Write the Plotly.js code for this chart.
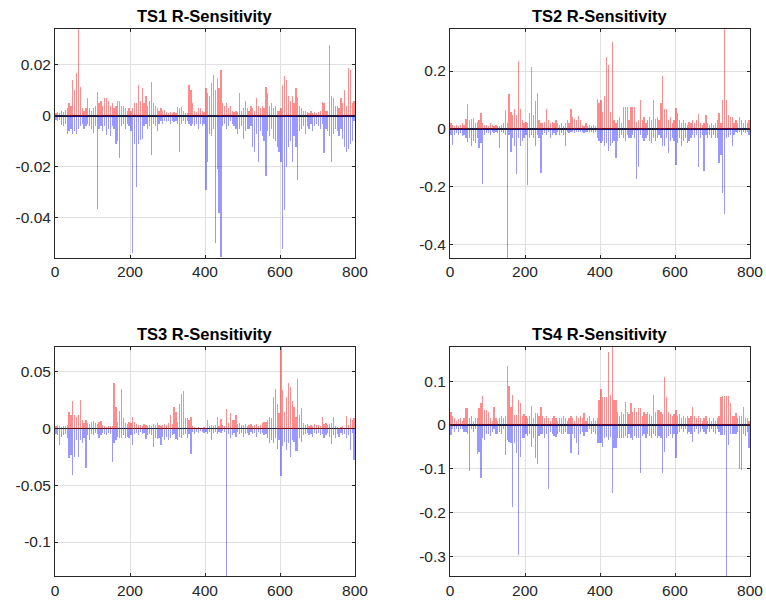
<!DOCTYPE html>
<html>
<head>
<meta charset="utf-8">
<script src="https://cdn.plot.ly/plotly-3.0.1.min.js"></script>
<style>html,body{margin:0;padding:0;background:#fff;}#chart{width:766px;height:609px;}</style>
</head>
<body>
<div id="chart"></div>
<script>
// Sample index: one value per 5-sample bin, bins start at 0,5,...,795 (160 bins)
const BIN = 5;
const NBINS = 160;

// Panel titles
const TITLES = ["TS1 R-Sensitivity", "TS2 R-Sensitivity", "TS3 R-Sensitivity", "TS4 R-Sensitivity"];

// Units the arrays are written in
const TS1_UNIT = 0.001, TS2_UNIT = 0.01, TS3_UNIT = 0.001, TS4_UNIT = 0.01;

// TS1 (values in 0.001)
const TS1_POS = [
 1,1.5,1,2,1.5,2.5,3,5,4,14,
 10,17,36,11.5,3,2,3,7,3,2,
 3,4,9.5,5,6,4,7,7,6,4,
 5,3,4,6,6,4,4,3,2,3,
 2,3,5,5,12,6,11,5,8,4,
 6,13.5,5,4,3,2,3,2,2.5,1.5,
 1,1.5,1,1.5,1,3.5,3,3.5,2,1,
 1,12,10,5,2,1.5,3,3,2,1.5,
 11,9,8,13,16,10,15,11,18,5,
 4,5,3,4,2,1.5,2,1.5,9,2,
 3,6,3,2,4,3,2,7,4,3,
 4,3,11.5,9,4,5,3,4,2,2,
 3,12,15.5,14,8,6,8,5,11,7.5,
 4,3,2,2,1.5,1,2,1,1.5,1,
 1.5,2,5.5,5,2,2,28,8,7,4,
 4,3,7,5,10,4,18.7,18,5,6];
const TS1_NEG = [
 -1.5,-2,-1.5,-3.5,-4,-3,-7,-6,-5,-7,
 -6,-7,-5,-4,-3,-5,-4,-3,-4,-5,
 -6.5,-4,-36.5,-5,-4,-6,-4,-7.5,-5,-8,
 -4,-5,-11,-10,-16.4,-4,-3,-5,-3,-4,
 -6,-53.6,-11,-28,-11,-9.5,-9,-4,-3,-5,
 -4,-15.3,-3,-4,-6,-3,-2,-3,-2,-2.5,
 -2,-3,-2,-2.5,-2,-3,-14,-3,-2,-3,
 -2,-3,-4,-3,-4,-3,-5,-3,-4,-3,
 -29,-18,-7,-8,-5,-50,-21,-38,-55.5,-4,
 -3,-5,-4,-2,-3,-4,-5,-7,-5,-4,
 -9,-6,-5,-5,-4,-12,-14,-7,-18,-6,
 -8,-10,-23.5,-6,-8,-5,-9,-10,-12,-14,
 -18,-52,-37,-20,-12,-10,-18,-8,-12,-25,
 -6,-5,-4,-7,-4,-5,-3,-6,-4,-3,
 -4,-5,-3,-14.7,-5,-6,-8,-18,-7,-5,
 -6,-8,-5,-9,-12,-14,-13,-11,-10,-2];

// TS2 (values in 0.01)
const TS2_POS = [
 2,1.5,1,1.5,1,1.5,2,1.5,3.5,8.5,
 3,3.5,3.7,2,2.5,3,5.5,2,1.5,1.5,
 1,2,1.5,1,1.5,1,1,1.5,2,6.6,
 2,12,6,5,7,5,23.5,7,3,2,
 2.5,2,5.5,21.5,5,9.5,12.5,3,2,2,
 2.5,7,3,2,2.5,2,3,2,1.5,2,
 1,2,3,2,7,4,3.5,3,4.5,3,
 1.5,1,2,1,1.5,1,1.5,1,10.5,9,
 10,6,11.5,25,22,6,30,3,2,3,
 4,2,7.5,7.5,7.5,3,7.5,7.5,7.5,2.5,
 3,10,3,4,2,3,4,3,10,3.5,
 4,3,9,18.3,7,7,3,4,2,3,
 7.2,5.5,3,2,3,2,1.5,2.5,2,3,
 2,3,5.1,2,1.5,2,5,2,1.5,2,
 1.5,2,3,5.5,2,10,34.5,10,5,4,
 4,2,3,2,4,3,2,3,2,3];
const TS2_NEG = [
 -2,-5.5,-2,-1.5,-2,-1.5,-2.5,-2,-3,-4.4,
 -3,-6,-4,-5,-3,-6.7,-5,-19,-2,-1.5,
 -1.5,-2,-1,-1.5,-1,-1.5,-6.4,-1,-1.5,-2,
 -44.4,-2,-8,-3,-6,-15.5,-3,-6,-4,-3,
 -2,-19.3,-3,-2,-3,-6,-2,-3,-15.3,-2,
 -1.5,-2,-1,-3,-2,-1.5,-2,-1,-2,-1.5,
 -2,-5.9,-1,-1.5,-1,-1,-1.5,-1,-1,-1,
 -1,-1.5,-1,-1,-1,-1,-1.5,-1,-3,-4,
 -5,-4,-6,-5,-7.5,-6,-5,-4,-10,-4,
 -3,-2,-3,-4,-2,-3,-3,-2,-3,-17.4,
 -13,-2,-3,-4,-3,-2,-4,-5,-3,-4,
 -3,-2,-3,-6,-6,-3,-8.4,-4,-3,-4,
 -12.4,-5,-3,-6,-4,-3,-5,-4,-3,-2,
 -3,-2,-13,-3,-2,-14.4,-2,-3,-2,-3,
 -2,-3,-3,-11.8,-9,-22,-29.4,-3,-2.6,-2,
 -6,-2,-1,-1.5,-1,-2,-1,-1.5,-1,-2];

// TS3 (values in 0.001)
const TS3_POS = [
 2,3,2,1.5,2,2,3,15,12,24,
 12,10,12,25,7.6,5,7.6,5,4,6,
 7,5,4,6,7,3,2,1.5,2,2.5,
 2,40.6,19,6,16,35,9,5,4,6,
 5,10.6,6,4,3,3,2,4,3,2,
 3,2,4,3,5,3,2,3,4,3,
 5,12,4,19,15,6,22,31,33.5,9,
 9,8,10,2,1.5,1,1.5,1,1,1.5,
 1,7.6,2,3,2,3,10.6,2,8.5,3,
 2,17.6,5,13.5,7.6,7.6,12,4,5,3,
 3,4,2,3,4,2,3,4,2,3,
 5,6,6,8,10,9,27.6,34.7,22,13.5,
 72,34,15,28,40,37,24,19.4,10,43.8,
 12,18,5,3,4,2,3,2,4,3,
 3,2,10,4,5,3,4,5,10.6,2,
 1.5,1,1.5,2,1,11,3,9,8,9];
const TS3_NEG = [
 -5,-6,-14.4,-7,-6,-5,-8,-26,-23,-41,
 -25,-10,-25,-10,-13,-8,-35,-6,-10,-5,
 -6,-4,-5,-8,-6,-4,-5,-6,-4,-5,
 -29,-13,-10,-7,-8,-8.5,-6,-8,-7,-8.5,
 -6,-14,-5,-4,-6,-3,-5,-4,-9.4,-6,
 -5,-6,-16,-8,-9,-8,-14,-7,-10,-7,
 -10,-8,-6,-5,-9,-10,-7,-8,-6,-5,
 -8,-5,-22.6,-3,-5,-3,-4,-2,-3,-4,
 -3,-5,-3,-10,-4,-3,-5,-3,-4,-2,
 -3,-130,-5,-8,-6,-4,-7,-3,-5,-4,
 -7,-5,-4,-6,-3,-5,-4,-7,-3,-5,
 -4,-6,-5,-8,-13,-10,-13,-8,-18,-10,
 -42,-15,-12,-19,-13,-25,-10,-12,-20,-20,
 -8,-12,-6,-5,-4,-6,-5,-7,-4,-5,
 -4,-6,-5,-8.5,-6,-4,-7,-13.5,-6,-8,
 -5,-7,-4,-6,-5,-8,-6,-19,-4,-27.6];

// TS4 (values in 0.01)
const TS4_POS = [
 3,2,1.5,1,1.3,1.5,1,1.5,3.8,3.8,
 1.5,2,1,1.5,1.5,3.8,5,6.6,3.4,3.4,
 3,1.5,1,4.2,1.5,1,1.5,2,1.5,2,
 13.5,9,4.2,6.9,2.3,2.3,5.7,5,2,2.5,
 2,1.5,2,4.4,1.5,2.7,2.7,2,4.2,2,
 1.5,2,1.5,1,1.5,2,1.5,1,1.5,1.5,
 2,1.5,1,1.5,2,1.5,1,2,1.5,2,
 1.5,2.7,1,1.5,2,1,1.5,1,1.5,5.7,
 8.2,6.5,6.5,6.5,16.8,6.9,18,5.7,5.7,3,
 2,3,2.5,5.3,3,2.5,5,3,4,3,
 4,4,2,3,2.5,3,2.5,2,6.9,3,
 3.4,3.4,3,2.5,11,6.5,3,2.5,2,2.5,
 3.4,2,2.5,1.5,2,1.5,2,1.5,2,4.2,
 2,1.5,2,1.5,1,1.5,2,1,1.5,1,
 1.5,1,1.5,2,6.3,6.7,6.7,6.7,6.7,5,
 2,2,2.7,1.5,2,2,4.2,1.5,1.5,1];
const TS4_NEG = [
 -2.3,-1,-1.5,-1,-1.5,-1,-1,-1.5,-1.5,-2,
 -10.5,-1,-1.5,-1,-6.6,-6.1,-12.2,-3,-3.4,-2,
 -2,-2.5,-1.5,-1,-2,-2,-1.5,-2,-1,-6.9,
 -3.4,-3.8,-4.2,-18.7,-4,-6.5,-29.8,-7.3,-3,-3,
 -2,-2.5,-2,-5,-3,-7.6,-8.9,-2.5,-2,-2,
 -3,-2,-14.7,-1.5,-2,-2.5,-2.7,-2,-1.5,-2,
 -2,-1.5,-2,-2,-6.3,-2,-3,-4,-6.9,-2,
 -1.5,-2.5,-1.5,-1.5,-1,-2,-1.5,-2,-4.2,-4.2,
 -4.2,-5,-3,-2.7,-3.5,-2.7,-15.6,-5.3,-5.3,-3,
 -3,-3,-3,-2.5,-3,-2,-3,-3.5,-2.5,-3,
 -3,-11,-2.5,-2,-3,-2,-2.5,-3,-2,-2.5,
 -3,-2.5,-3,-10.9,-6.1,-3,-2.5,-2,-3,-2,
 -7.6,-2,-1.5,-1,-1.5,-1,-2,-1.5,-2,-3.8,
 -1.5,-1,-2,-1.5,-1,-1.5,-2,-1,-1.5,-1,
 -1.5,-2,-1,-1.5,-2.3,-2.3,-2.3,-34.5,-4.6,-2,
 -2,-2,-2,-1.5,-10,-10.3,-2,-2.5,-1.5,-5.3];

// Tick labels
const X_TICKS = [0, 200, 400, 600, 800];
const Y_TICKS = [
  [-0.04, -0.02, 0, 0.02],
  [-0.4, -0.2, 0, 0.2],
  [-0.1, -0.05, 0, 0.05],
  [-0.3, -0.2, -0.1, 0, 0.1]
];
const Y_TICKTEXT = [
  ["-0.04", "-0.02", "0", "0.02"],
  ["-0.4", "-0.2", "0", "0.2"],
  ["-0.1", "-0.05", "0", "0.05"],
  ["-0.3", "-0.2", "-0.1", "0", "0.1"]
];
const Y_RANGES = [[-0.0556, 0.0341], [-0.444, 0.345], [-0.130, 0.0723], [-0.345, 0.179]];

const panels = [
  {pos: TS1_POS, neg: TS1_NEG, unit: TS1_UNIT},
  {pos: TS2_POS, neg: TS2_NEG, unit: TS2_UNIT},
  {pos: TS3_POS, neg: TS3_NEG, unit: TS3_UNIT},
  {pos: TS4_POS, neg: TS4_NEG, unit: TS4_UNIT}
];

const xCenters = Array.from({length: NBINS}, (_, i) => i * BIN + BIN / 2);

const traces = [];
panels.forEach((p, k) => {
  const xa = k === 0 ? 'x' : 'x' + (k + 1);
  const ya = k === 0 ? 'y' : 'y' + (k + 1);
  traces.push({
    type: 'bar', x: xCenters, y: p.pos.map(v => v * p.unit), xaxis: xa, yaxis: ya,
    width: 3.5, marker: {color: 'rgba(255,0,0,0.45)', line: {width: 0}}, hoverinfo: 'x+y', showlegend: false
  });
  traces.push({
    type: 'bar', x: xCenters, y: p.neg.map(v => v * p.unit), xaxis: xa, yaxis: ya,
    width: 3.5, marker: {color: 'rgba(0,0,255,0.4)', line: {width: 0}}, hoverinfo: 'x+y', showlegend: false
  });
});

const FONT = 'Liberation Sans, Arial, Helvetica, sans-serif';
const W = 766, H = 609;
const xDom = [[55 / W, 355 / W], [450 / W, 750 / W]];
const yDom = [[1 - 257.7 / H, 1 - 29 / H], [1 - 576 / H, 1 - 346.7 / H]];

function xAxis(k) {
  return {
    domain: xDom[k % 2], range: [0, 800], anchor: k === 0 ? 'y' : 'y' + (k + 1),
    tickvals: X_TICKS, ticktext: X_TICKS.map(String),
    showline: true, mirror: 'ticks', linecolor: '#262626', linewidth: 1,
    ticks: 'inside', ticklen: 3, tickcolor: '#262626',
    showgrid: true, gridcolor: '#e0e0e0', gridwidth: 1, zeroline: false,
    tickfont: {family: FONT, size: 15.5, color: '#262626'}, fixedrange: true
  };
}
function yAxis(k) {
  return {
    domain: yDom[Math.floor(k / 2)], range: Y_RANGES[k], anchor: k === 0 ? 'x' : 'x' + (k + 1),
    tickvals: Y_TICKS[k], ticktext: Y_TICKTEXT[k],
    showline: true, mirror: 'ticks', linecolor: '#262626', linewidth: 1,
    ticks: 'inside', ticklen: 3, tickcolor: '#262626',
    showgrid: true, gridcolor: '#e0e0e0', gridwidth: 1,
    zeroline: true, zerolinecolor: '#1a1a3a', zerolinewidth: 1.3,
    tickfont: {family: FONT, size: 15.5, color: '#262626'}, fixedrange: true
  };
}

const layout = {
  width: W, height: H, margin: {l: 0, r: 0, t: 0, b: 0},
  paper_bgcolor: '#ffffff', plot_bgcolor: '#ffffff',
  barmode: 'overlay', bargap: 0, showlegend: false,
  font: {family: FONT, color: '#262626'},
  annotations: TITLES.map((t, k) => ({
    text: '<b>' + t + '</b>', xref: 'paper', yref: 'paper',
    x: (xDom[k % 2][0] + xDom[k % 2][1]) / 2, y: yDom[Math.floor(k / 2)][1],
    xanchor: 'center', yanchor: 'bottom', yshift: 2, showarrow: false,
    font: {family: FONT, size: 16.5, color: '#000000'}
  }))
};
for (let k = 0; k < 4; k++) {
  layout[k === 0 ? 'xaxis' : 'xaxis' + (k + 1)] = xAxis(k);
  layout[k === 0 ? 'yaxis' : 'yaxis' + (k + 1)] = yAxis(k);
}

Plotly.newPlot('chart', traces, layout, {displayModeBar: false, staticPlot: true});
</script>
</body>
</html>
